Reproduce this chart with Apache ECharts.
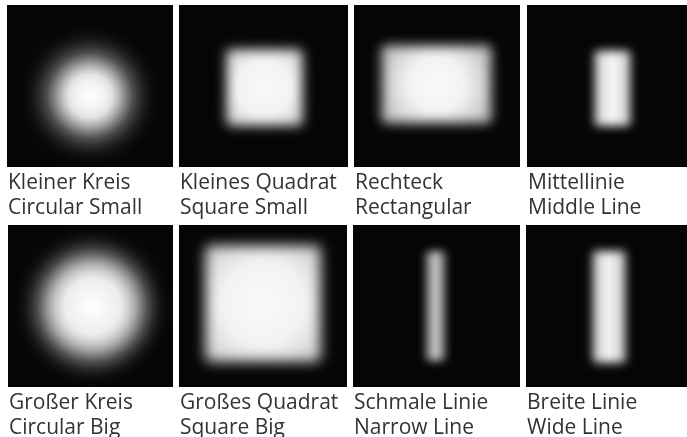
<!DOCTYPE html>
<html><head><meta charset="utf-8">
<script src="https://cdn.jsdelivr.net/npm/echarts@6/dist/echarts.min.js"></script>
<style>html,body{margin:0;padding:0;background:#fff}#c{width:687px;height:437px}</style>
</head><body><div id="c"></div>
<script>
// ---- data (axis units 0..100 within each panel) ----
const labelsDe = ['Kleiner Kreis','Kleines Quadrat','Rechteck','Mittellinie','Großer Kreis','Großes Quadrat','Schmale Linie','Breite Linie'];
const labelsEn = ['Circular Small','Square Small','Rectangular','Middle Line','Circular Big','Square Big','Narrow Line','Wide Line'];
const shapeKinds = ['circle','square','rect','line','circle','square','line','line'];
const centerX = [50, 50.6, 49.7, 53.4, 51.2, 50, 49.4, 51.6];
const centerY = [44, 49.1, 51, 48.5, 49.7, 51.5, 50, 49.4];
const shapeW  = [53, 45.5, 66, 22.5, 67, 69, 11.4, 20.5];
const shapeH  = [54, 47.5, 48, 46.5, 69, 72, 67.5, 69];
const peak    = [1, 0.98, 0.98, 0.96, 1, 0.98, 0.72, 0.94];

// ---- layout / style ----
const panels = [[7,5,166,162],[179,5,169,162],[354,5,166,162],[527,5,160,162],
                [8,225,165,162],[179,225,168,162],[353,225,167,162],[526,225,161,162]];
const blurs = [26, 12, 12, 10, 22, 13, 9, 10];

const chart = echarts.init(document.getElementById('c'), null, {renderer:'canvas', devicePixelRatio: 1});
const grid = [], xAxis = [], yAxis = [], series = [], title = [];
panels.forEach((p, i) => {
  grid.push({left:p[0], top:p[1], width:p[2], height:p[3], show:true, backgroundColor:'#050505', borderWidth:0});
  xAxis.push({type:'value', gridIndex:i, min:0, max:100, show:false});
  yAxis.push({type:'value', gridIndex:i, min:0, max:100, show:false});
  title.push({text: labelsDe[i] + '\n' + labelsEn[i], left: p[0] + 1, top: p[1] + p[3] + 4, padding:0,
    textStyle:{fontFamily:'Open Sans', fontSize:21, fontWeight:'normal', color:'#333', lineHeight:25}});
  const kind = shapeKinds[i];
  series.push({
    type:'custom', xAxisIndex:i, yAxisIndex:i, clip:false, silent:true,
    data:[[centerX[i], centerY[i], shapeW[i], shapeH[i], peak[i]]],
    renderItem(params, api) {
      const cx = api.value(0), cy = api.value(1), w = api.value(2), h = api.value(3), a = api.value(4);
      const p0 = api.coord([cx - w/2, cy + h/2]);
      const p1 = api.coord([cx + w/2, cy - h/2]);
      const W = p1[0] - p0[0], H = p1[1] - p0[1];
      const OFF = 3000;
      let fill, r;
      if (kind === 'circle') {
        r = Math.min(W, H) / 2;
        fill = {type:'radial', x:0.5, y:0.5, r:0.5, colorStops:[
          {offset:0, color:'rgba(255,255,255,1)'},{offset:0.5, color:'rgba(255,255,255,0.93)'},{offset:1, color:'rgba(255,255,255,0.62)'}]};
      } else if (kind === 'line') {
        r = 3;
        fill = {type:'linear', x:0, y:0, x2:1, y2:0, colorStops:[
          {offset:0, color:'rgba(255,255,255,0.85)'},{offset:0.5, color:'rgba(255,255,255,1)'},{offset:1, color:'rgba(255,255,255,0.85)'}]};
      } else {
        r = 5;
        fill = {type:'radial', x:0.5, y:0.5, r:0.7, colorStops:[
          {offset:0, color:'rgba(255,255,255,1)'},{offset:0.5, color:'rgba(255,255,255,0.97)'},{offset:1, color:'rgba(255,255,255,0.8)'}]};
      }
      return {type:'rect', shape:{x:p0[0], y:p0[1] + OFF, width:W, height:H, r:r},
        style:{fill:fill, shadowBlur:blurs[i], shadowColor:'rgba(255,255,255,' + a + ')', shadowOffsetX:0, shadowOffsetY:-OFF}};
    }
  });
});
chart.setOption({animation:false, grid, xAxis, yAxis, series, title});
</script></body></html>
